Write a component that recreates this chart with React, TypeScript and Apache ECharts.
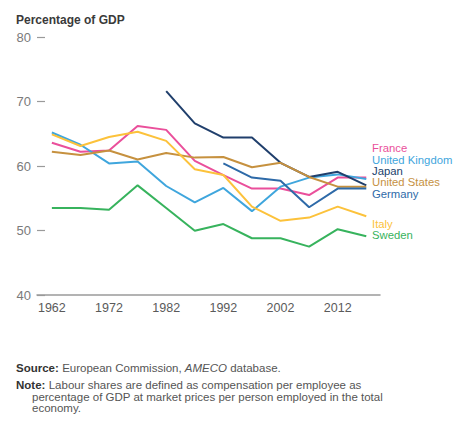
import React, { useEffect, useRef } from "react";
import * as echarts from "echarts";

const years = [1962, 1967, 1972, 1977, 1982, 1987, 1992, 1997, 2002, 2007, 2012, 2017];
const tickYears = [1962, 1972, 1982, 1992, 2002, 2012];

const france = [63.6, 62.2, 62.4, 66.2, 65.6, 60.8, 58.6, 56.5, 56.5, 55.5, 58.2, 58.2];
const unitedKingdom = [65.2, 63.3, 60.4, 60.7, 56.9, 54.35, 56.6, 53.0, 56.8, 58.2, 58.7, 58.0];
const japan = [null, null, null, null, 71.6, 66.6, 64.4, 64.4, 60.5, 58.3, 59.1, 57.0];
const unitedStates = [62.2, 61.7, 62.4, 61.0, 62.0, 61.3, 61.4, 59.8, 60.5, 58.3, 56.8, 56.8];
const germany = [null, null, null, null, null, null, 60.4, 58.2, 57.7, 53.6, 56.5, 56.5];
const italy = [64.9, 63.1, 64.5, 65.3, 63.9, 59.5, 58.6, 53.7, 51.5, 52.0, 53.7, 52.2];
const sweden = [53.5, 53.5, 53.2, 57.0, 53.5, 49.95, 51.0, 48.8, 48.8, 47.5, 50.2, 49.1];

const seriesDefs = [
  { name: "France", data: france, color: "#ea4f9b" },
  { name: "United Kingdom", data: unitedKingdom, color: "#3fa6dd" },
  { name: "Japan", data: japan, color: "#203f6c" },
  { name: "United States", data: unitedStates, color: "#c6913f" },
  { name: "Germany", data: germany, color: "#2e6aa8" },
  { name: "Italy", data: italy, color: "#fcc23b" },
  { name: "Sweden", data: sweden, color: "#37b35d" },
];

const labelYs = [148, 159.5, 170.5, 181.5, 193.5, 223.5, 235];

const FONT = "'Liberation Sans', Arial, Helvetica, sans-serif";
const FOOT = 11.5;

export default function App() {
  const ref = useRef<HTMLDivElement>(null);
  useEffect(() => {
    if (!ref.current) return;
    const chart = echarts.init(ref.current, null, { renderer: "svg" });
    const option = {
      animation: false,
      textStyle: { fontFamily: FONT },
      grid: { left: 37, right: 74, top: 37, bottom: 127, containLabel: false },
      xAxis: {
        type: "value",
        min: 1959.4,
        max: 2019.4,
        splitLine: { show: false },
        axisLine: { show: true, lineStyle: { color: "#9a9a9a", width: 1.5 } },
        axisTick: { show: false },
        axisLabel: {
          customValues: tickYears,
          formatter: (v: number) => String(v),
          color: "#5a5a5a",
          fontSize: 12.5,
          margin: 6,
          fontFamily: FONT,
        },
      },
      yAxis: {
        type: "value",
        min: 40,
        max: 80,
        interval: 10,
        splitLine: { show: false },
        axisLine: { show: false },
        axisTick: { show: true, inside: true, length: 8, lineStyle: { color: "#9a9a9a", width: 1.2 } },
        axisLabel: { color: "#7a7a7a", fontSize: 13, margin: 6, fontFamily: FONT },
      },
      series: seriesDefs.map((s) => ({
        name: s.name,
        type: "line",
        data: years.map((y, i) => [y, s.data[i]]),
        showSymbol: false,
        connectNulls: false,
        lineStyle: { color: s.color, width: 2 },
        itemStyle: { color: s.color },
        z: 2,
      })),
      graphic: [
        {
          type: "text",
          left: 16,
          top: 14,
          style: { text: "Percentage of GDP", font: `bold 12px ${FONT}`, fill: "#3a3a3a" },
        },
        ...seriesDefs.map((s, i) => ({
          type: "text",
          x: 372,
          y: labelYs[i],
          style: {
            text: s.name,
            font: `11.3px ${FONT}`,
            fill: s.color,
            verticalAlign: "middle",
          },
        })),
        {
          type: "text",
          x: 16,
          y: 368,
          style: {
            text: "{b|Source:} {n|European Commission, }{i|AMECO}{n| database.}",
            verticalAlign: "middle",
            rich: {
              b: { font: `bold ${FOOT}px ${FONT}`, fill: "#333" },
              n: { font: `${FOOT}px ${FONT}`, fill: "#555" },
              i: { font: `italic ${FOOT}px ${FONT}`, fill: "#555" },
            },
          },
        },
        {
          type: "text",
          x: 16,
          y: 385,
          style: {
            text: "{b|Note:} {n|Labour shares are defined as compensation per employee as}",
            verticalAlign: "middle",
            rich: {
              b: { font: `bold ${FOOT}px ${FONT}`, fill: "#333", lineHeight: 11 },
              n: { font: `${FOOT}px ${FONT}`, fill: "#555", lineHeight: 11 },
            },
          },
        },
        {
          type: "text",
          x: 32,
          y: 396.5,
          style: {
            text: "percentage of GDP at market prices per person employed in the total",
            font: `${FOOT}px ${FONT}`,
            fill: "#555",
            verticalAlign: "middle",
            lineHeight: 11,
          },
        },
        {
          type: "text",
          x: 32,
          y: 408,
          style: {
            text: "economy.",
            font: `${FOOT}px ${FONT}`,
            fill: "#555",
            verticalAlign: "middle",
            lineHeight: 11,
          },
        },
      ],
    };
    chart.setOption(option as any);
    return () => chart.dispose();
  }, []);
  return (
    <div
      ref={ref}
      style={{ position: "fixed", left: 0, top: 0, width: 454, height: 422, background: "#fff" }}
    />
  );
}
